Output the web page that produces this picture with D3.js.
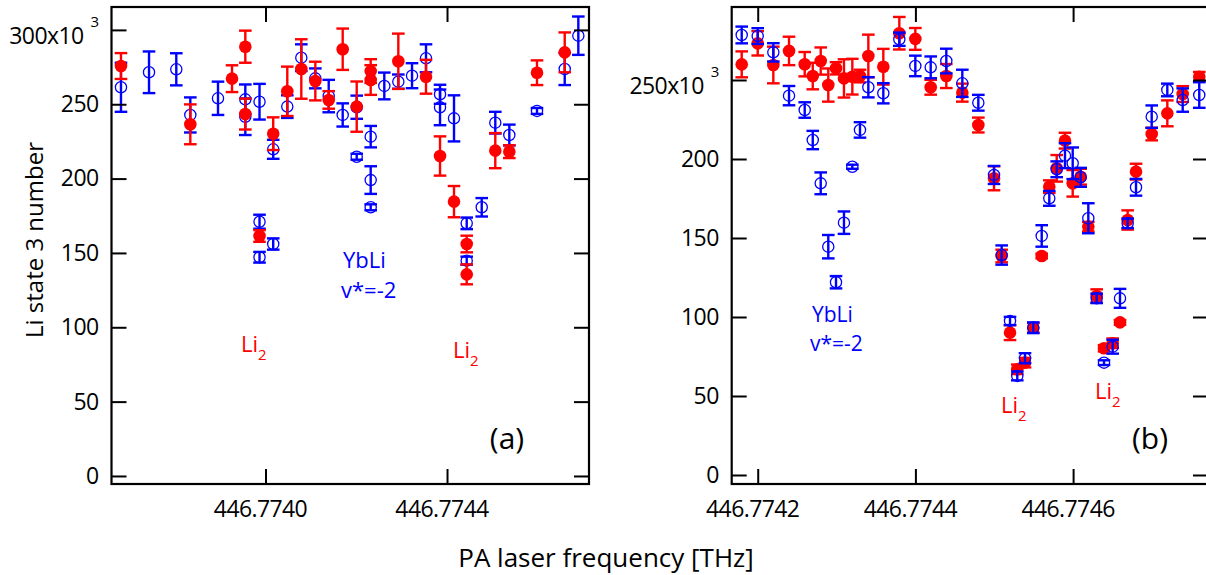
<!DOCTYPE html>
<html><head><meta charset="utf-8">
<script src="https://cdn.jsdelivr.net/npm/d3@7"></script>
<style>
body{margin:0;background:#fff}
svg{display:block}
text{font-family:"Open Sans","Noto Sans",sans-serif}
</style>
</head><body>
<svg id="c" width="1206" height="575"></svg>
<script>
// ---------- DATA: [frequency THz, Li state 3 number (x10^3), error] ----------
const aBlue = [
[446.7736815,261.4,16.5],[446.7737433,271.5,14.0],[446.7738034,273.5,10.8],[446.7738343,242.8,11.8],
[446.7738953,254.0,11.2],[446.7739555,253.3,10.0],[446.7739555,241.6,12.3],[446.7739868,251.7,12.0],
[446.7739868,171.0,4.7],[446.7739868,147.1,3.6],[446.7740170,219.7,6.4],[446.7740170,156.0,3.8],
[446.7740480,248.4,7.6],[446.7740789,281.3,9.0],[446.7741098,267.4,6.7],[446.7741393,255.5,10.9],
[446.7741701,242.8,7.8],[446.7742010,248.0,7.8],[446.7742010,214.7,2.0],[446.7742318,228.2,7.2],
[446.7742318,199.0,9.3],[446.7742318,180.7,2.0],[446.7742618,262.3,9.0],[446.7742927,265.2,4.8],
[446.7743229,269.2,8.4],[446.7743537,280.9,9.4],[446.7743846,256.7,6.4],[446.7743846,247.9,12.0],
[446.7744154,240.5,15.5],[446.7744434,169.9,3.9],[446.7744434,144.8,2.7],[446.7744765,180.7,6.2],
[446.7745064,237.6,7.3],[446.7745373,229.3,7.0],[446.7745983,245.5,2.0],[446.7746594,273.7,10.8],
[446.7746894,296.1,12.9]
];
const aRed = [
[446.7736815,275.7,8.7],[446.7738343,236.5,13.4],[446.7739262,267.2,9.0],[446.7739555,288.7,10.8],
[446.7739555,243.4,10.4],[446.7739868,161.4,3.9],[446.7740170,230.2,11.0],[446.7740480,258.7,16.6],
[446.7740789,273.7,20.0],[446.7741098,265.6,13.0],[446.7741393,252.9,5.9],[446.7741701,287.0,13.9],
[446.7742010,248.4,16.9],[446.7742318,272.3,8.0],[446.7742318,266.3,10.0],[446.7742927,278.9,18.6],
[446.7743537,268.5,11.4],[446.7743846,215.2,13.2],[446.7744154,184.5,10.5],[446.7744434,156.0,5.6],
[446.7744434,135.6,6.7],[446.7745064,218.8,11.8],[446.7745373,218.1,4.3],[446.7745983,271.2,8.3],
[446.7746594,284.9,13.4]
];
const bBlue = [
[446.7741797,278.5,5.3],[446.7742000,277.8,5.0],[446.7742198,267.5,5.8],[446.7742397,240.1,6.1],
[446.7742596,231.0,4.9],[446.7742698,212.0,5.8],[446.7742799,184.6,6.9],[446.7742895,144.5,7.4],
[446.7742993,122.0,3.9],[446.7743094,159.7,7.1],[446.7743200,195.1,1.3],[446.7743297,218.4,4.9],
[446.7743403,245.4,6.4],[446.7743593,241.6,6.4],[446.7743796,275.8,4.2],[446.7743999,258.9,6.5],
[446.7744194,258.0,6.9],[446.7744392,262.0,7.8],[446.7744595,247.9,8.6],[446.7744798,235.6,5.0],
[446.7744997,189.9,5.7],[446.7745094,139.2,6.1],[446.7745200,97.5,2.6],[446.7745292,62.7,2.8],
[446.7745390,73.9,3.2],[446.7745495,93.2,3.4],[446.7745602,151.3,6.8],[446.7745698,175.1,4.7],
[446.7745792,193.5,5.0],[446.7745897,202.1,7.9],[446.7745995,197.3,10.0],[446.7746096,188.4,6.0],
[446.7746193,162.5,9.5],[446.7746299,111.8,3.0],[446.7746392,71.1,1.5],[446.7746502,81.2,4.4],
[446.7746595,111.8,6.0],[446.7746692,159.3,3.0],[446.7746798,182.1,5.3],[446.7746997,226.8,7.1],
[446.7747195,243.7,4.0],[446.7747390,237.3,7.4],[446.7747600,240.5,8.1]
];
const bRed = [
[446.7741797,259.9,8.2],[446.7742000,273.2,7.7],[446.7742198,259.5,11.6],[446.7742397,268.4,9.0],
[446.7742596,260.0,7.7],[446.7742698,252.5,8.4],[446.7742799,262.0,8.6],[446.7742895,246.8,10.5],
[446.7742993,257.4,3.9],[446.7743094,251.0,12.1],[446.7743200,252.1,11.3],[446.7743297,252.5,4.0],
[446.7743403,265.2,13.5],[446.7743593,258.4,11.3],[446.7743796,279.6,10.3],[446.7743999,276.0,6.9],
[446.7744194,245.4,4.7],[446.7744392,252.5,7.6],[446.7744595,242.0,5.7],[446.7744798,221.5,4.7],
[446.7744997,187.8,7.6],[446.7745094,138.6,4.0],[446.7745200,90.1,4.7],[446.7745292,66.9,3.0],
[446.7745390,71.1,3.0],[446.7745495,93.2,3.0],[446.7745602,138.6,1.5],[446.7745698,182.5,4.0],
[446.7745792,194.1,8.4],[446.7745897,211.6,5.0],[446.7745995,184.6,8.4],[446.7746096,188.8,5.0],
[446.7746193,157.2,3.0],[446.7746299,113.3,4.2],[446.7746392,80.2,2.0],[446.7746502,83.4,3.0],
[446.7746595,96.6,1.5],[446.7746692,161.4,6.1],[446.7746798,192.0,5.0],[446.7746997,215.8,4.0],
[446.7747195,228.9,8.2],[446.7747390,241.1,5.0],[446.7747600,252.1,3.0]
];
const aXTicks = [446.7740, 446.7744];
const aYTicks = [0, 50, 100, 150, 200, 250, 300];
const bXTicks = [446.7742, 446.7744, 446.7746];
const bYTicks = [0, 50, 100, 150, 200, 250];
const xTitle = "PA laser frequency [THz]";
const yTitle = "Li state 3 number";

// ---------- DRAW ----------
const svg = d3.select("#c");
const RED = "#ff0000", BLUE = "#0000ff";

function drawSeries(g, x, y, data, color, filled) {
  const s = g.append("g");
  const bars = s.selectAll("g.eb").data(data).join("g").attr("class", "eb")
    .attr("stroke", color).attr("stroke-width", 2.4).attr("fill", "none");
  bars.append("line").attr("x1", d => x(d[0])).attr("x2", d => x(d[0]))
    .attr("y1", d => y(d[1] - d[2])).attr("y2", d => y(d[1] + d[2]));
  bars.append("line").attr("x1", d => x(d[0]) - 6.3).attr("x2", d => x(d[0]) + 6.3)
    .attr("y1", d => y(d[1] + d[2])).attr("y2", d => y(d[1] + d[2]));
  bars.append("line").attr("x1", d => x(d[0]) - 6.3).attr("x2", d => x(d[0]) + 6.3)
    .attr("y1", d => y(d[1] - d[2])).attr("y2", d => y(d[1] - d[2]));
  s.selectAll("circle").data(data).join("circle")
    .attr("cx", d => x(d[0])).attr("cy", d => y(d[1]))
    .attr("r", filled ? 6.3 : 5.6)
    .attr("fill", filled ? color : "none")
    .attr("stroke", filled ? "none" : color)
    .attr("stroke-width", 1.3);
}

function panel(cfg) {
  const x = d3.scaleLinear().domain(cfg.xDom).range([cfg.left, cfg.right]);
  const y = d3.scaleLinear().domain(cfg.yDom).range([cfg.bottom, cfg.top]);
  const g = svg.append("g");

  if (cfg.redOnTop) {
    drawSeries(g, x, y, cfg.blue, BLUE, false);
    drawSeries(g, x, y, cfg.red, RED, true);
  } else {
    drawSeries(g, x, y, cfg.red, RED, true);
    drawSeries(g, x, y, cfg.blue, BLUE, false);
  }

  const ax = g.append("g").attr("class", "axes");
  const fmtX = d3.format(".4f");
  const bottomAx = ax.append("g").attr("transform", `translate(0,${cfg.bottom})`)
    .call(d3.axisBottom(x).tickValues(cfg.xTicks).tickSize(-15).tickSizeOuter(0).tickFormat(fmtX));
  bottomAx.selectAll("text").attr("y", 33).attr("dy", null).attr("dx", -5.5);
  ax.append("g").attr("transform", `translate(0,${cfg.top})`)
    .call(d3.axisTop(x).tickValues(cfg.xTicks).tickSize(-15).tickSizeOuter(0).tickFormat(""));
  const leftAx = ax.append("g").attr("transform", `translate(${cfg.left},0)`)
    .call(d3.axisLeft(y).tickValues(cfg.yTicks).tickSize(-15).tickSizeOuter(0).tickPadding(13));
  ax.append("g").attr("transform", `translate(${cfg.right},0)`)
    .call(d3.axisRight(y).tickValues(cfg.yTicks).tickSize(-15).tickSizeOuter(0).tickFormat(""));
  ax.selectAll(".domain").remove();
  ax.selectAll(".tick line").attr("stroke", "#000").attr("stroke-width", 2);
  ax.selectAll(".tick text").attr("fill", "#000").attr("font-size", 23)
    .attr("font-family", '"Open Sans",sans-serif').attr("letter-spacing", -0.6);

  const topVal = cfg.yTicks[cfg.yTicks.length - 1];
  leftAx.selectAll(".tick text").filter(d => d === topVal).each(function(d) {
    const t = d3.select(this);
    t.text(null).attr("dy", null).attr("y", 14);
    t.append("tspan").text(d + "x10");
    t.append("tspan").attr("dx", 7).attr("dy", -17).attr("font-size", 15).text("3");
  });

  g.append("rect").attr("x", cfg.left).attr("y", cfg.top)
    .attr("width", cfg.right - cfg.left).attr("height", cfg.bottom - cfg.top)
    .attr("fill", "none").attr("stroke", "#000").attr("stroke-width", 2.2);

  g.append("text").attr("x", cfg.labelX).attr("y", 449).attr("text-anchor", "middle")
    .attr("font-size", 30).attr("fill", "#000").text(cfg.label);

  return {g, x, y};
}

panel({
  left: 111.5, right: 589, top: 7, bottom: 484,
  xDom: [446.7736606, 446.7747129], yDom: [-5.4, 315.4],
  xTicks: aXTicks, yTicks: aYTicks, blue: aBlue, red: aRed, redOnTop: true,
  label: "(a)", labelX: 507
});
panel({
  left: 731.7, right: 1208, top: 7, bottom: 484,
  xDom: [446.774167, 446.7747711], yDom: [-5.7, 296.2],
  xTicks: bXTicks, yTicks: bYTicks, blue: bBlue, red: bRed, redOnTop: false,
  label: "(b)", labelX: 1150
});

// annotations
function li2(x, yb) {
  const t = svg.append("text").attr("x", x).attr("y", yb).attr("fill", RED).attr("font-size", 22);
  t.append("tspan").text("Li");
  t.append("tspan").attr("dy", 8).attr("font-size", 15).text("2");
}
function ybli(x, y1, y2, fs) {
  svg.append("text").attr("x", x).attr("y", y1).attr("fill", BLUE).attr("font-size", fs).text("YbLi");
  svg.append("text").attr("x", x - 2).attr("y", y2).attr("fill", BLUE).attr("font-size", fs).text("v*=-2");
}
li2(241, 352);
li2(453, 358);
ybli(343, 268, 298, 22);
li2(1001, 413);
li2(1095, 399);
ybli(812, 322, 351, 21);

// axis titles
svg.append("text").attr("transform", "translate(43,240) rotate(-90)")
  .attr("text-anchor", "middle").attr("font-size", 24).attr("fill", "#000").text(yTitle);
svg.append("text").attr("x", 606).attr("y", 567).attr("text-anchor", "middle")
  .attr("font-size", 26).attr("fill", "#000").text(xTitle);
</script>
</body></html>
